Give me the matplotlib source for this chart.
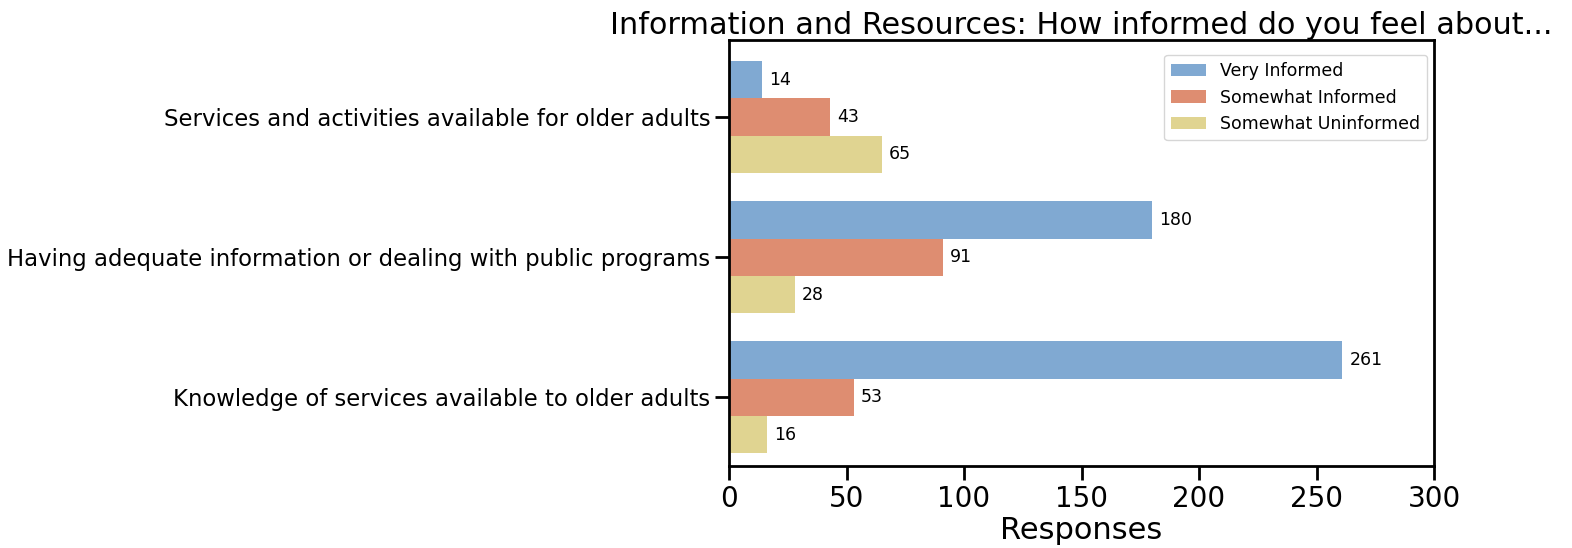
import matplotlib.pyplot as plt
import numpy as np

categories = [
    "Services and activities available for older adults",
    "Having adequate information or dealing with public programs",
    "Knowledge of services available to older adults",
]
series = ["Very Informed", "Somewhat Informed", "Somewhat Uninformed"]
very_informed = [14, 180, 261]
somewhat_informed = [43, 91, 53]
somewhat_uninformed = [65, 28, 16]
colors = ["#80a9d2", "#de8d71", "#e0d491"]

values = [very_informed, somewhat_informed, somewhat_uninformed]

fig = plt.figure(figsize=(15.72, 5.48), dpi=100)
ax = fig.add_axes([729 / 1572, 1 - 466 / 548, (1434 - 729) / 1572, (466 - 40) / 548])

y = np.arange(len(categories))
h = 0.8 / 3
for i, (name, vals) in enumerate(zip(series, values)):
    pos = y - 0.4 + h / 2 + i * h
    bars = ax.barh(pos, vals, height=h, color=colors[i], label=name)
    for b, v in zip(bars, vals):
        ax.text(v + 3, b.get_y() + h / 2, str(v), va="center", ha="left", fontsize=12.5)

ax.set_yticks(y)
ax.set_yticklabels(categories, fontsize=16.4)
ax.set_ylim(2.49, -0.55)
ax.set_xlim(0, 300)
ax.set_xticks(np.arange(0, 301, 50))
ax.tick_params(axis="x", labelsize=20, length=10, width=2)
ax.tick_params(axis="y", length=10, width=2)
for s in ax.spines.values():
    s.set_linewidth(2)
ax.set_xlabel("Responses", fontsize=22, labelpad=2)
ax.set_title("Information and Resources: How informed do you feel about...",
             fontsize=21.8, pad=3)
ax.legend(loc="upper right", fontsize=12.5, borderaxespad=0,
          bbox_to_anchor=(1 - 7 / 705, 1 - 15 / 426))

fig.savefig("out.png", dpi=100)
